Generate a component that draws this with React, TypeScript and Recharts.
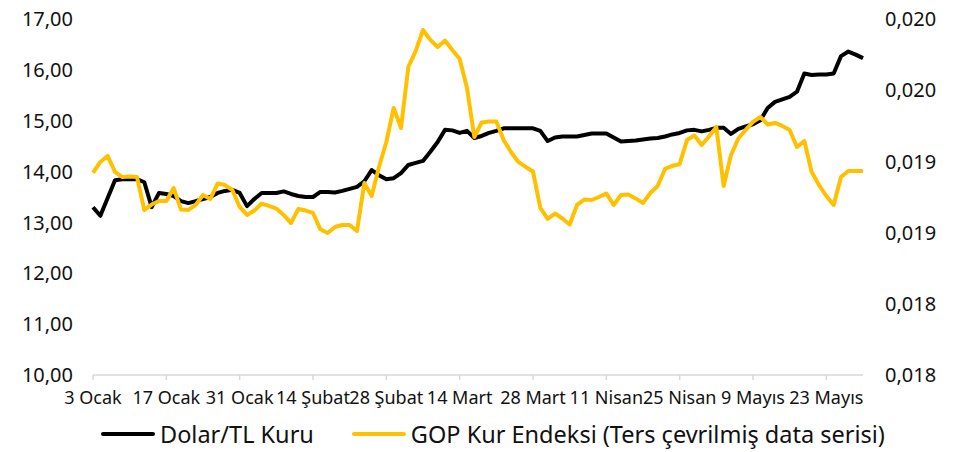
import { LineChart, Line, XAxis, YAxis, Legend } from "recharts"

// one value per business day, 3 Ocak -> 30 Mayıs
const USD_TL = [
  13.3, 13.13, 13.48, 13.83, 13.85, 13.85, 13.85, 13.79, 13.3, 13.58,
  13.56, 13.52, 13.42, 13.38, 13.42, 13.46, 13.5, 13.58, 13.62, 13.64,
  13.58, 13.32, 13.46, 13.58, 13.58, 13.58, 13.61, 13.56, 13.52, 13.5,
  13.5, 13.6, 13.6, 13.59, 13.62, 13.66, 13.7, 13.81, 14.03, 13.93,
  13.85, 13.87, 13.97, 14.13, 14.17, 14.21, 14.39, 14.58, 14.82, 14.81,
  14.76, 14.8, 14.66, 14.7, 14.76, 14.8, 14.85, 14.85, 14.85, 14.85,
  14.85, 14.8, 14.6, 14.67, 14.69, 14.69, 14.69, 14.72, 14.75, 14.75,
  14.75, 14.67, 14.59, 14.6, 14.61, 14.63, 14.65, 14.66, 14.69, 14.73,
  14.76, 14.81, 14.82, 14.79, 14.82, 14.86, 14.86, 14.74, 14.84, 14.89,
  14.93, 15.01, 15.25, 15.37, 15.42, 15.47, 15.57, 15.93, 15.9, 15.91,
  15.91, 15.93, 16.27, 16.36, 16.3, 16.23,
]

// GOP kur endeksi, ters çevrilmiş
const GOP_INV = [
  0.018919, 0.018996, 0.019038, 0.018926, 0.01889, 0.018894, 0.01889, 0.018659, 0.018697, 0.018722,
  0.018722, 0.018813, 0.018662, 0.018659, 0.018694, 0.018764, 0.018736, 0.018845, 0.018834, 0.018799,
  0.01868, 0.018624, 0.018655, 0.018704, 0.018687, 0.018669, 0.018624, 0.018567, 0.018666, 0.018655,
  0.018638, 0.018523, 0.018497, 0.018539, 0.018553, 0.018553, 0.018511, 0.018848, 0.018757, 0.018961,
  0.019136, 0.019375, 0.019235, 0.019663, 0.019775, 0.019923, 0.019853, 0.019803, 0.019849, 0.019782,
  0.019719, 0.019515, 0.019171, 0.019273, 0.01928, 0.01928, 0.01915, 0.019066, 0.018996, 0.018961,
  0.018929, 0.018673, 0.018596, 0.018634, 0.018599, 0.018557, 0.018694, 0.018732, 0.018729, 0.01875,
  0.018775, 0.018694, 0.018764, 0.018768, 0.01874, 0.018708, 0.018778, 0.018827, 0.018947, 0.018968,
  0.018982, 0.01915, 0.019182, 0.019115, 0.019175, 0.019242, 0.018827, 0.019045, 0.019161, 0.019221,
  0.019277, 0.019312, 0.019259, 0.01927, 0.019249, 0.019221, 0.019101, 0.019143, 0.018926, 0.018834,
  0.018757, 0.018694, 0.01889, 0.018933, 0.018933, 0.018933,
]

const TICK_LABELS = ["3 Ocak", "17 Ocak", "31 Ocak", "14 Şubat", "28 Şubat", "14 Mart", "28 Mart", "11 Nisan", "25 Nisan", "9 Mayıs", "23 Mayıs"]

const LEFT_TICKS = [10, 11, 12, 13, 14, 15, 16, 17]
const RIGHT_TICKS = [0.0175, 0.018, 0.0185, 0.019, 0.0195, 0.02]
const RIGHT_TICK_LABELS = ["0,018", "0,018", "0,019", "0,019", "0,020", "0,020"]

const SERIES = [
  { key: "usd", name: "Dolar/TL Kuru", color: "#000000" },
  { key: "gop", name: "GOP Kur Endeksi (Ters çevrilmiş data serisi)", color: "#FFC000" },
]

const FONT = "'Noto Sans', sans-serif"
const TEXT = "#111111"

const data = USD_TL.map((v, i) => ({ i, usd: v, gop: GOP_INV[i] }))

function ChartLegend() {
  return (
    <div style={{ display: "flex", alignItems: "center", gap: 38, paddingLeft: 101, fontFamily: FONT, fontSize: 23.5, color: TEXT }}>
      {SERIES.map((s) => (
        <div key={s.key} style={{ display: "flex", alignItems: "center", gap: 5 }}>
          <div style={{ width: 54, height: 4, background: s.color, borderRadius: 2 }} />
          <span>{s.name}</span>
        </div>
      ))}
    </div>
  )
}

export default function App() {
  return (
    <div style={{ position: "absolute", left: 0, top: 0, width: 965, height: 452, background: "#fff" }}>
      <LineChart width={965} height={452} data={data} margin={{ top: 19, right: 0, left: 0, bottom: 47 }}>
        <XAxis
          dataKey="i"
          type="category"
          interval={9}
          tickFormatter={(v: number) => TICK_LABELS[v / 10] ?? ""}
          height={30}
          axisLine={{ stroke: "#d9d9d9", strokeWidth: 1.5 }}
          tickLine={{ stroke: "#d9d9d9", strokeWidth: 1.5 }}
          tickSize={5}
          tickMargin={11}
          tick={{ fontFamily: FONT, fontSize: 18, fill: TEXT }}
        />
        <YAxis
          yAxisId="left"
          width={93}
          domain={[10, 17]}
          ticks={LEFT_TICKS}
          tickFormatter={(v: number) => v.toFixed(2).replace(".", ",")}
          axisLine={false}
          tickLine={false}
          tickSize={0}
          tickMargin={20}
          tick={{ fontFamily: FONT, fontSize: 20, fill: TEXT }}
        />
        <YAxis
          yAxisId="right"
          orientation="right"
          width={102}
          domain={[0.0175, 0.02]}
          ticks={RIGHT_TICKS}
          tickFormatter={(v: number) => RIGHT_TICK_LABELS[Math.round((v - 0.0175) / 0.0005)]}
          axisLine={false}
          tickLine={false}
          tickSize={0}
          tickMargin={22}
          tick={{ fontFamily: FONT, fontSize: 20, fill: TEXT }}
        />
        <Legend
          layout="horizontal"
          verticalAlign="middle"
          align="center"
          wrapperStyle={{ top: 418, left: 0, width: 965 }}
          content={() => <ChartLegend />}
        />
        <Line yAxisId="left" dataKey="usd" name={SERIES[0].name} stroke={SERIES[0].color} strokeWidth={4} dot={false} strokeLinejoin="round" isAnimationActive={false} />
        <Line yAxisId="right" dataKey="gop" name={SERIES[1].name} stroke={SERIES[1].color} strokeWidth={4} dot={false} strokeLinejoin="round" isAnimationActive={false} />
      </LineChart>
    </div>
  )
}
